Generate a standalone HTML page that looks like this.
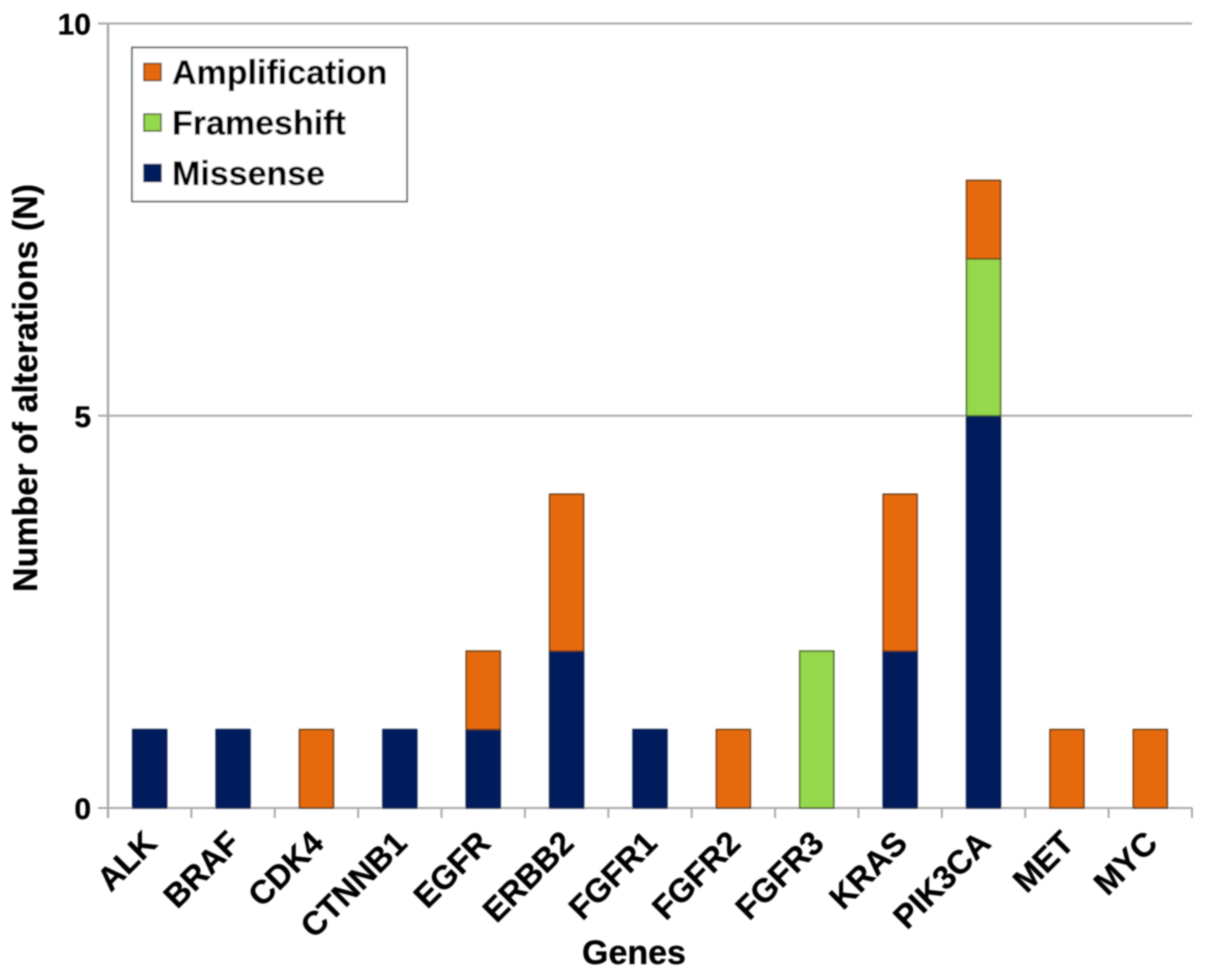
<!DOCTYPE html>
<html>
<head>
<meta charset="utf-8">
<title>Number of alterations by gene</title>
<style>
html,body{margin:0;padding:0;background:#fff;width:1205px;height:977px;overflow:hidden}
svg{display:block}
text{font-family:"Liberation Sans",Arial,sans-serif;font-weight:bold;fill:#000;stroke:#000;stroke-width:0.3}
</style>
</head>
<body>
<svg id="chart" xmlns="http://www.w3.org/2000/svg" width="1205" height="977" viewBox="0 0 1205 977">
<defs><filter id="soft" x="-2%" y="-2%" width="104%" height="104%"><feGaussianBlur stdDeviation="0.75"/></filter></defs>
<g id="root" filter="url(#soft)"></g>
</svg>
<script>
const categories = ["ALK","BRAF","CDK4","CTNNB1","EGFR","ERBB2","FGFR1","FGFR2","FGFR3","KRAS","PIK3CA","MET","MYC"];
const missense = [1,1,0,1,1,2,1,0,0,2,5,0,0];
const frameshift = [0,0,0,0,0,0,0,0,2,0,2,0,0];
const amplification = [0,0,1,0,1,2,0,1,0,2,1,1,1];
const yTicks = [0,5,10];
const legendLabels = ["Amplification","Frameshift","Missense"];

const NS = "http://www.w3.org/2000/svg";
const root = document.getElementById("root");
const plot = {left:108, right:1192, top:23.5, bottom:808, yMax:10};
const colors = {missense:"#001c5c", frameshift:"#94d84c", amplification:"#e66a08"};
const strokes = {missense:"#0b2050", frameshift:"#3d5a20", amplification:"#5e3510"};
const band = (plot.right - plot.left) / categories.length;
const barW = 34;
function xAt(i){ return plot.left + band * i; }
function yAt(v){ return plot.bottom - (plot.bottom - plot.top) * v / plot.yMax; }
function make(tag, attrs, text){
  const el = document.createElementNS(NS, tag);
  for (const k in attrs) el.setAttribute(k, attrs[k]);
  if (text !== undefined) el.textContent = text;
  root.appendChild(el);
  return el;
}

yTicks.forEach(function(t){
  const y = yAt(t);
  const line = make("line", {x1:plot.left - 10, x2:plot.right, y1:y, y2:y, stroke:"#a9a9a9", "stroke-width":2});
  
  
  const label = make("text", {x:plot.left - 17, y:y + 11, "text-anchor":"end", "font-size":30}, String(t));
  
  
});

const yAxis = make("line", {x1:plot.left, x2:plot.left, y1:plot.top, y2:plot.bottom + 10, stroke:"#a9a9a9", "stroke-width":2.4});



for (let i = 1; i <= categories.length; i++) {
  const tick = make("line", {x1:xAt(i), x2:xAt(i), y1:plot.bottom, y2:plot.bottom + 10, stroke:"#a9a9a9", "stroke-width":2});
  
  
}

function drawSegment(i, base, value, key){
  if (!value) return;
  const cx = xAt(i) + band / 2;
  const rect = make("rect", {x:cx - barW / 2, y:yAt(base + value), width:barW, height:yAt(base) - yAt(base + value), fill:colors[key], stroke:strokes[key], "stroke-width":1.4});
  
  
}
categories.forEach(function(name, i){
  drawSegment(i, 0, missense[i], "missense");
  drawSegment(i, missense[i], frameshift[i], "frameshift");
  drawSegment(i, missense[i] + frameshift[i], amplification[i], "amplification");
  const lx = xAt(i) + band / 2 + 9;
  const ly = plot.bottom + 37;
  const label = make("text", {x:lx, y:ly, "text-anchor":"end", "font-size":33, transform:"rotate(-45 " + lx + " " + ly + ")"}, name);
  
  
});

const xTitle = make("text", {x:634, y:964, "text-anchor":"middle", "font-size":34}, "Genes");



const yTitle = make("text", {x:0, y:0, "text-anchor":"middle", "font-size":34, transform:"translate(37 388) rotate(-90)"}, "Number of alterations (N)");



const legendBox = make("rect", {x:132, y:47.5, width:275, height:154, fill:"#fff", stroke:"#555", "stroke-width":1.6});



const legendKeys = ["amplification","frameshift","missense"];
legendLabels.forEach(function(text, i){
  const key = legendKeys[i];
  const top = 63.5 + i * 50.5;
  const swatch = make("rect", {x:144, y:top, width:17, height:17, fill:colors[key], stroke:strokes[key], "stroke-width":1.4});
  
  
  const label = make("text", {x:172, y:top + 20.5, "font-size":34}, text);
  
  
});
</script>
</body>
</html>
